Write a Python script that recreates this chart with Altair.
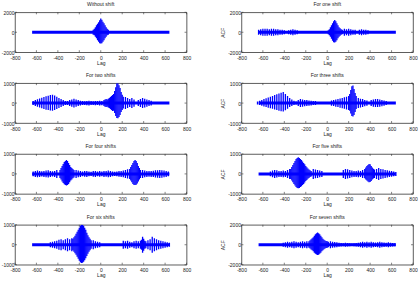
import altair as alt
import pandas as pd

TITLES = ["Without shift", "For one shift", "For two shifts", "For three shifts",
          "For four shifts", "For five shifts", "For six shifts", "For seven shifts"]
LIMITS = [2000, 2000, 1000, 1000, 1000, 1000, 1000, 2000]
X_TICKS = [-800, -600, -400, -200, 0, 200, 400, 600, 800]
BASE_SPAN = [-640, 640]

# segments: (first lag, lag step, upper peaks, lower troughs or None when mirrored)
SEG_1 = [
    (-70, 10, [250, 350, 500, 700, 850, 1000, 1200, 1370, 1250, 1050, 900, 700, 500, 350, 250],
     [-250, -300, -450, -600, -800, -950, -1100, -1130, -1100, -950, -800, -600, -450, -300, -250]),
]
SEG_2 = [
    (-640, 20, [250, 300, 350, 350, 350, 300, 350, 350, 300, 300, 250, 250, 200], None),
    (-360, 20, [200, 250, 300, 250, 200], None),
    (10, 10, [200, 300, 500, 700, 900, 1100, 1230, 1100, 900, 700, 500, 400, 300, 250],
     [-200, -300, -450, -650, -850, -1000, -1030, -950, -800, -600, -450, -350, -250, -200]),
    (160, 20, [350, 300, 350, 300, 250, 250], None),
    (300, 20, [250, 300, 250, 250, 200], None),
]
SEG_3 = [
    (-630, 20, [100, 150, 190, 230, 270, 310, 340, 370, 400, 415, 380, 320, 260, 200, 150, 110, 100],
     [-100, -140, -180, -220, -260, -300, -330, -350, -370, -385, -350, -300, -240, -190, -140, -100, -90]),
    (-290, 20, [150, 180, 220, 180, 150, 120], None),
    (-170, 20, [100, 90, 110, 120, 100, 90, 110, 100, 120, 110], None),
    (30, 10, [150, 180, 200, 180, 220, 250, 300, 350, 400], None),
    (120, 10, [450, 600, 800, 1000, 1000, 900, 750, 550, 420, 320],
     [-380, -500, -650, -750, -760, -700, -600, -450, -350, -270]),
    (230, 20, [300, 250, 200, 250, 180], None),
    (350, 20, [150, 200, 250, 220, 180, 150, 120], None),
]
SEG_4 = [
    (-650, 20, [80, 120, 160, 200, 240, 280, 320, 360, 400, 440, 480, 520, 550, 450, 350, 250, 180, 120, 80],
     [-70, -100, -130, -170, -200, -230, -260, -290, -320, -350, -380, -410, -420, -360, -280, -200, -150, -100, -70]),
    (-270, 20, [150, 200, 180, 160, 150, 130, 120, 100, 100], None),
    (40, 20, [130, 150, 180, 200, 230, 260, 290, 320, 350], None),
    (210, 10, [450, 650, 850, 880, 700, 500, 350], [-380, -520, -650, -670, -600, -450, -300]),
    (290, 20, [250, 220, 200, 160, 130], None),
    (410, 20, [150, 180, 200, 200, 180, 160, 130, 100], None),
]
SEG_5 = [
    (-630, 20, [120, 150, 170, 150, 130, 150, 170, 180, 150, 130, 150, 200], None),
    (-380, 10, [200, 300, 400, 500, 600, 650, 700, 650, 550, 450, 350, 300, 250, 200],
     [-200, -280, -380, -450, -520, -560, -580, -560, -500, -420, -330, -280, -220, -180]),
    (-230, 20, [200, 170, 150, 120, 140, 150, 120, 110, 140, 150, 120, 140, 120, 150, 140, 170, 150,
                120, 110, 120, 140, 150, 170, 200, 230], None),
    (270, 10, [250, 350, 450, 550, 650, 700, 650, 550, 400, 300, 200],
     [-250, -330, -420, -500, -550, -560, -540, -480, -380, -280, -200]),
    (390, 20, [200, 170, 150, 140, 150, 160, 180, 190, 200, 190, 170, 150, 120], None),
]
SEG_6 = [
    (-530, 20, [120, 170, 200, 180, 150], None),
    (-430, 20, [150, 170, 150, 200, 250], None),
    (-340, 10, [250, 350, 450, 550, 650, 750, 800, 830, 800, 750, 700, 620, 550, 480, 400, 330, 270, 220, 180, 150],
     [-250, -330, -420, -500, -580, -650, -700, -720, -700, -660, -620, -560, -500, -430, -360, -300, -240, -200, -160, -130]),
    (-130, 20, [250, 220, 200, 170, 150], None),
    (150, 20, [200, 250, 230, 200, 170, 150], None),
    (270, 20, [150, 170, 150, 200], None),
    (350, 10, [250, 320, 400, 450, 500, 480, 400, 320, 260, 220],
     [-220, -280, -330, -380, -420, -400, -350, -280, -230, -200]),
    (460, 20, [250, 300, 250, 230, 200, 180, 160, 140, 120, 100], None),
]
SEG_7 = [
    (-470, 20, [120, 150, 170, 200, 250, 280, 220], None),
    (-330, 20, [280, 320, 280, 320], None),
    (-260, 10, [300, 380, 450, 550, 650, 750, 850, 950, 1000, 1000, 950, 850, 750, 600, 480, 380, 300, 220],
     [-280, -350, -420, -500, -600, -700, -800, -880, -920, -900, -850, -780, -680, -560, -450, -350, -280, -200]),
    (-70, 20, [220, 180, 150, 130], None),
    (210, 20, [200, 170, 200, 150, 130], None),
    (310, 20, [170, 200, 170, 200], None),
    (380, 10, [250, 400, 300, 200, 170], None),
    (440, 20, [220, 280, 400, 320, 270, 230, 200, 180, 150, 120, 100], None),
]
SEG_8 = [
    (-410, 20, [200, 250, 300, 250, 300, 350, 300, 250, 300, 350, 300, 350], None),
    (-170, 10, [350, 450, 550, 650, 750, 900, 1050, 1150, 1230, 1150, 1050, 900, 750, 600, 500, 420, 380, 340, 300],
     [-300, -380, -470, -560, -650, -800, -900, -980, -1030, -1000, -900, -800, -650, -550, -450, -380, -330, -300, -250]),
    (30, 20, [350, 300, 280, 250], None),
    (110, 20, [200, 180, 150, 200, 180, 150, 130, 150, 180], None),
    (290, 20, [200, 250, 300, 250, 300, 250, 300, 250, 230, 250, 300, 250, 230, 200, 250, 200, 170, 150], None),
]
SEGS = [SEG_1, SEG_2, SEG_3, SEG_4, SEG_5, SEG_6, SEG_7, SEG_8]

BLUE = "#0000ff"
TXT = "#222222"
FRAME = "#333333"
FONT = "Liberation Sans"
FS = 5


def panel(k):
    rows = []
    for start, step, up, lo in SEGS[k]:
        for i, u in enumerate(up):
            rows.append({"lag": start + i * step, "up": u,
                         "lo": lo[i] if lo is not None else -u})
    df = pd.DataFrame(rows)
    d = LIMITS[k]
    right = (k % 2 == 1)
    xscale = alt.Scale(domain=[-800, 800], nice=False, zero=False)
    yscale = alt.Scale(domain=[-d, d], nice=False, zero=False)
    common = dict(ticks=False, domain=False, grid=False, labelFontSize=FS,
                  labelFlush=False, labelOverlap=False,
                  labelColor=TXT, labelFont=FONT, labelExpr="'' + datum.value")
    xaxis = alt.Axis(title="Lag", values=X_TICKS, titleFontSize=FS, titlePadding=0,
                     labelPadding=3, titleColor=TXT, titleFontWeight="normal",
                     titleFont=FONT, **common)
    if right:
        yaxis = alt.Axis(title="ACF", values=[-d, 0, d], titleFontSize=FS, titlePadding=2,
                         labelPadding=1, titleColor=TXT, titleFontWeight="normal",
                         titleFont=FONT, **common)
    else:
        yaxis = alt.Axis(title=None, values=[-d, 0, d], labelPadding=1, **common)

    base_df = pd.DataFrame({"x": [BASE_SPAN[0]], "x2": [BASE_SPAN[1]], "y": [0]})
    baseline = alt.Chart(base_df).mark_rule(color=BLUE, strokeWidth=3, clip=True).encode(
        x=alt.X("x:Q", scale=xscale, axis=xaxis),
        x2="x2:Q",
        y=alt.Y("y:Q", scale=yscale, axis=yaxis),
    )
    spikes = alt.Chart(df).mark_rule(color=BLUE, strokeWidth=1.3, clip=True).encode(
        x=alt.X("lag:Q", scale=xscale, axis=xaxis),
        y=alt.Y("up:Q", scale=yscale, axis=yaxis),
        y2="lo:Q",
    )
    # inward box ticks (MATLAB style)
    xt = pd.DataFrame({"t": X_TICKS})
    yt = pd.DataFrame({"t": [-d, 0, d]})
    top_ticks = alt.Chart(xt).mark_rule(color=FRAME, strokeWidth=0.6).encode(
        x=alt.X("t:Q", scale=xscale, axis=xaxis), y=alt.value(0), y2=alt.value(2))
    bot_ticks = alt.Chart(xt).mark_rule(color=FRAME, strokeWidth=0.6).encode(
        x=alt.X("t:Q", scale=xscale, axis=xaxis), y=alt.value(38), y2=alt.value(40))
    left_ticks = alt.Chart(yt).mark_rule(color=FRAME, strokeWidth=0.6).encode(
        y=alt.Y("t:Q", scale=yscale, axis=yaxis), x=alt.value(0), x2=alt.value(2))
    right_ticks = alt.Chart(yt).mark_rule(color=FRAME, strokeWidth=0.6).encode(
        y=alt.Y("t:Q", scale=yscale, axis=yaxis), x=alt.value(170), x2=alt.value(172))
    return alt.layer(top_ticks, bot_ticks, left_ticks, right_ticks, baseline, spikes).properties(
        width=172, height=40,
        title=alt.TitleParams(TITLES[k], fontSize=FS, font=FONT, fontWeight="normal",
                              color=TXT, offset=3),
    )


chart = alt.concat(*[panel(k) for k in range(8)], columns=2,
                   spacing={"row": 31, "column": 55}, bounds="flush").properties(
    padding={"left": 0, "top": 1, "right": 0, "bottom": 0}
).configure_view(stroke=FRAME, strokeWidth=0.8)

chart.save("out.html", embed_options={"renderer": "svg", "actions": False})
